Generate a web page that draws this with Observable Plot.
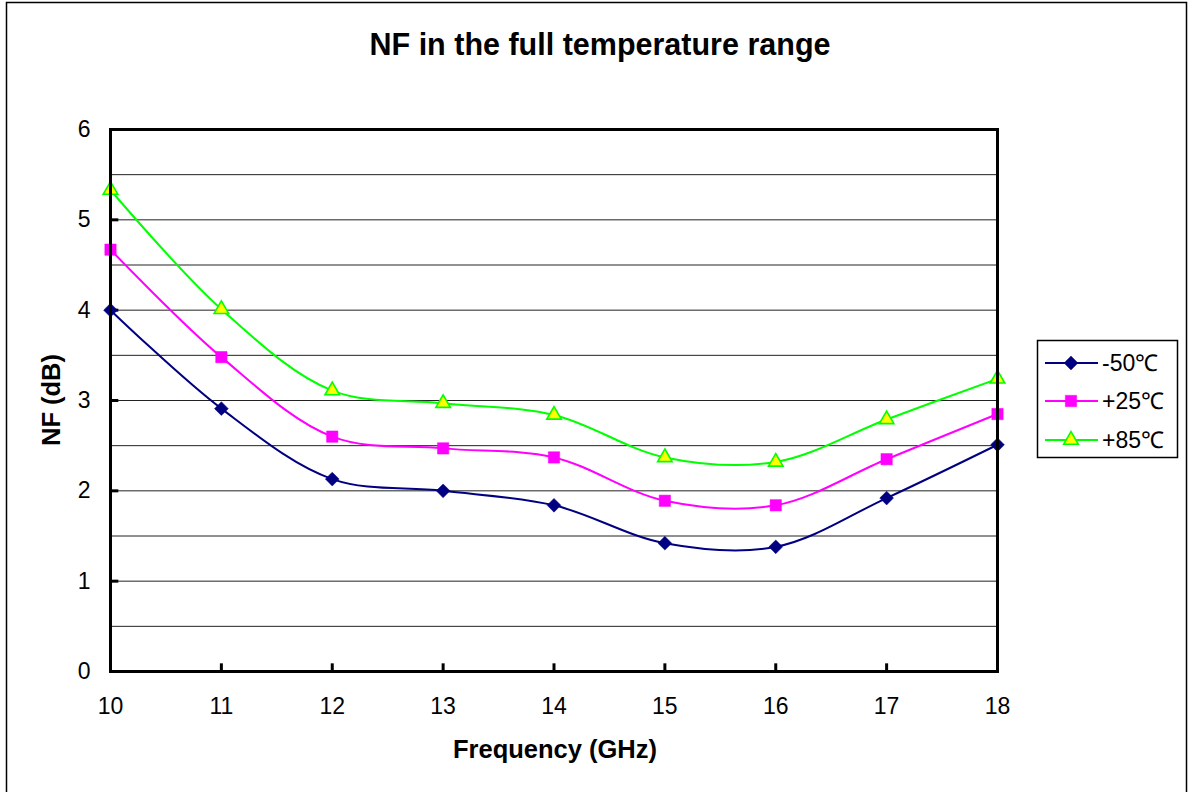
<!DOCTYPE html>
<html>
<head>
<meta charset="utf-8">
<script src="https://cdn.jsdelivr.net/npm/d3@7"></script>
<script src="https://cdn.jsdelivr.net/npm/@observablehq/plot@0.6"></script>
<style>
  html, body { margin: 0; padding: 0; background: #fff; }
  svg { font-family: "Liberation Sans", Arial, sans-serif; }
</style>
</head>
<body>
<div id="chart"></div>
<script>
const frequencies = [10, 11, 12, 13, 14, 15, 16, 17, 18];
const seriesNames = ["-50℃", "+25℃", "+85℃"];
const nfMinus50 = [4.00, 2.91, 2.13, 2.00, 1.84, 1.42, 1.38, 1.92, 2.51];
const nfPlus25  = [4.67, 3.48, 2.60, 2.47, 2.37, 1.89, 1.84, 2.35, 2.85];
const nfPlus85  = [5.33, 4.01, 3.11, 2.97, 2.84, 2.37, 2.32, 2.79, 3.24];
const xTicks = [10, 11, 12, 13, 14, 15, 16, 17, 18];
const yTicks = [0, 1, 2, 3, 4, 5, 6];
const yGrid = [0.5, 1, 1.5, 2, 2.5, 3, 3.5, 4, 4.5, 5, 5.5];
const titleText = "NF in the full temperature range";
const xLabel = "Frequency (GHz)";
const yLabel = "NF (dB)";

const colors = ["#000080", "#FF00FF", "#00FF00"];
const fills = ["#000080", "#FF00FF", "#FFFF00"];
const symbols = ["diamond2", "square", "triangle"];
const radii = [6.2, 6.4, 5.4];

const allValues = [nfMinus50, nfPlus25, nfPlus85];
const data = [];
allValues.forEach((vals, si) => {
  vals.forEach((v, i) => data.push({series: seriesNames[si], x: frequencies[i], y: v}));
});

const W = 1188, H = 792;
const margin = {left: 110, right: 191, top: 129, bottom: 121};

const marks = [
  Plot.ruleY(yGrid, {stroke: "#222", strokeWidth: 1}),
  Plot.ruleX(xTicks, {y1: 0, y2: 0.085, stroke: "#000", strokeWidth: 3}),
  Plot.ruleY(yTicks, {x1: 10, x2: 10.075, stroke: "#000", strokeWidth: 3}),
];
seriesNames.forEach((name, si) => {
  const d = data.filter(r => r.series === name);
  marks.push(Plot.line(d, {x: "x", y: "y", stroke: colors[si], strokeWidth: 2, curve: "catmull-rom"}));
});
seriesNames.forEach((name, si) => {
  const d = data.filter(r => r.series === name);
  marks.push(Plot.dot(d, {x: "x", y: "y", symbol: () => symbols[si], r: radii[si],
    fill: fills[si], stroke: si === 2 ? "#00FF00" : fills[si], strokeWidth: si === 2 ? 1.6 : 0.5}));
});
marks.push(Plot.frame({stroke: "#000", strokeWidth: 3}));
marks.push(Plot.axisX(xTicks, {tickSize: 0, tickPadding: 26, fontSize: 23, label: null, tickFormat: d => String(d)}));
marks.push(Plot.axisY(yTicks, {tickSize: 0, tickPadding: 20, fontSize: 23, label: null, tickFormat: d => String(d)}));

const plot = Plot.plot({
  width: W, height: H,
  marginLeft: margin.left, marginRight: margin.right, marginTop: margin.top, marginBottom: margin.bottom,
  x: {domain: [10, 18]},
  y: {domain: [0, 6]},
  symbol: {type: "identity"},
  style: {fontFamily: "'Liberation Sans', Arial, sans-serif", color: "#000", background: "#fff", overflow: "visible"},
  marks
});

const svg = d3.select(plot);
// outer chart border
svg.insert("rect", ":first-child")
  .attr("x", 6.5).attr("y", 2.5).attr("width", 1180).attr("height", 800)
  .attr("fill", "#fff").attr("stroke", "#000").attr("stroke-width", 1.5);

// title
svg.append("text").attr("x", 600).attr("y", 55).attr("text-anchor", "middle")
  .style("font-size", "30.5px").attr("font-weight", "bold").attr("fill", "#000").text(titleText);
// x label
svg.append("text").attr("x", 555).attr("y", 758).attr("text-anchor", "middle")
  .style("font-size", "25.5px").attr("font-weight", "bold").attr("fill", "#000").text(xLabel);
// y label
svg.append("text").attr("transform", "translate(60,400) rotate(-90)").attr("text-anchor", "middle")
  .style("font-size", "25.5px").attr("font-weight", "bold").attr("fill", "#000").text(yLabel);

// legend
const lg = svg.append("g");
lg.append("rect").attr("x", 1037.5).attr("y", 340.5).attr("width", 140).attr("height", 117)
  .attr("fill", "#fff").attr("stroke", "#000").attr("stroke-width", 1.5);
const rowY = [363, 401, 440];
seriesNames.forEach((name, si) => {
  const y = rowY[si];
  lg.append("line").attr("x1", 1045).attr("x2", 1098).attr("y1", y).attr("y2", y)
    .attr("stroke", colors[si]).attr("stroke-width", 2);
  const sym = {diamond2: d3.symbolDiamond2, square: d3.symbolSquare, triangle: d3.symbolTriangle}[symbols[si]];
  lg.append("path").attr("d", d3.symbol(sym, Math.PI * radii[si] * radii[si])())
    .attr("transform", `translate(1071,${y})`)
    .attr("fill", fills[si]).attr("stroke", si === 2 ? "#00FF00" : fills[si])
    .attr("stroke-width", si === 2 ? 1.6 : 0.5);
  lg.append("text").attr("x", 1102).attr("y", y).attr("dy", "0.35em")
    .attr("text-anchor", "start")
    .style("font-size", "23px").attr("fill", "#000").text(name);
});

document.getElementById("chart").appendChild(plot);
</script>
</body>
</html>
